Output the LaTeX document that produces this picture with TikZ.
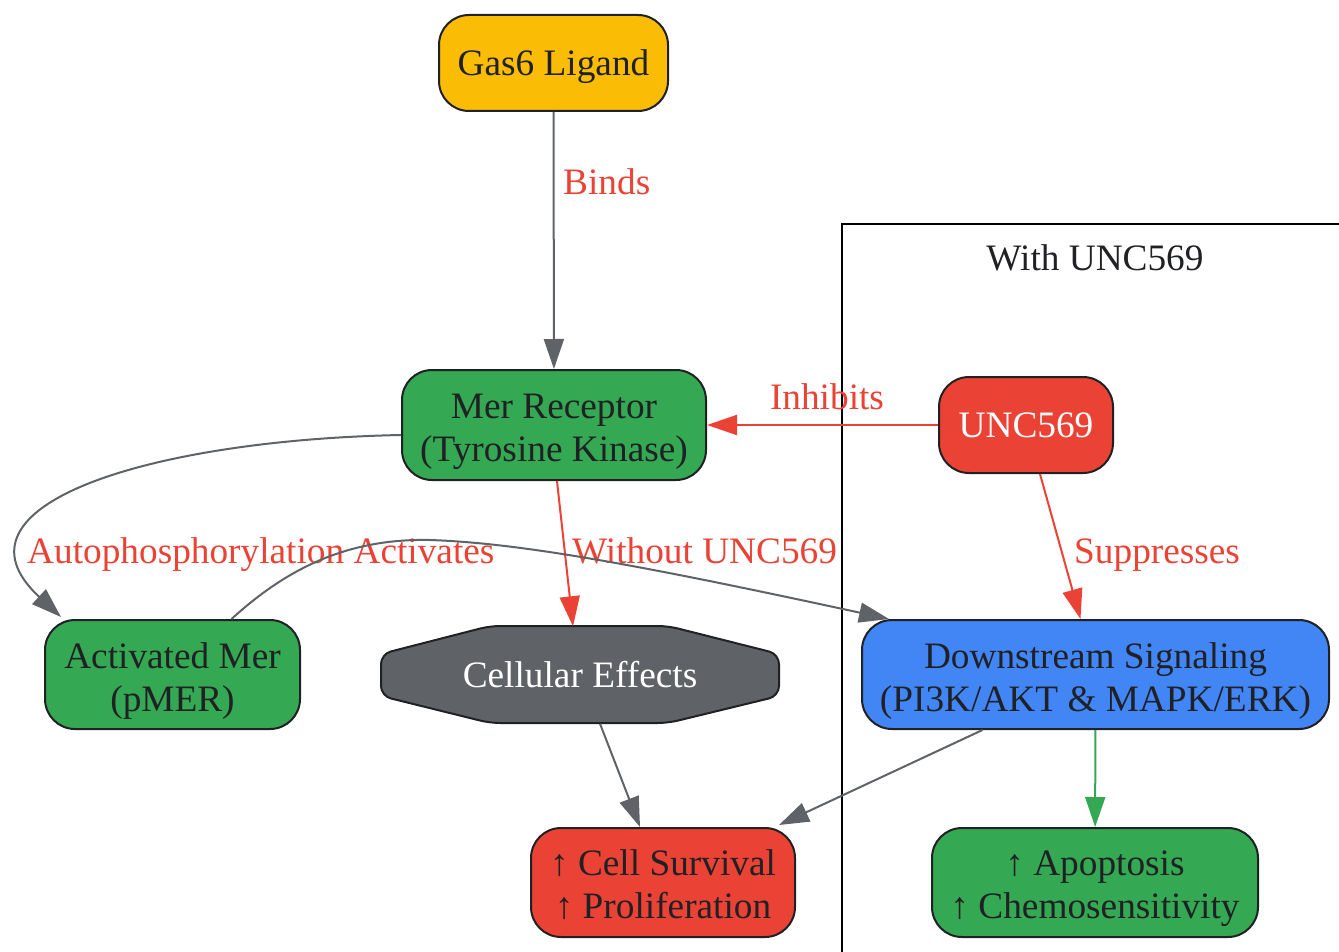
\documentclass[tikz,border=0pt]{standalone}
\usepackage{fontspec}
\setmainfont{Liberation Serif}
\usetikzlibrary{arrows.meta}
\definecolor{cgreen}{HTML}{34A853}
\definecolor{cred}{HTML}{EA4335}
\definecolor{cyellow}{HTML}{FBBC05}
\definecolor{cblue}{HTML}{4285F4}
\definecolor{cgray}{HTML}{5F6368}
\definecolor{cdark}{HTML}{202124}
\newcommand{\topstrut}{\rule{0pt}{38pt}}
\newcommand{\botstrut}{\rule[-9pt]{0pt}{9pt}}
\begin{document}
\begin{tikzpicture}[x=1pt,y=-1pt,
  font=\fontsize{37.3}{43}\selectfont,
  box/.style={draw=cdark, line width=2pt, rounded corners=30pt, inner sep=0pt, align=center, text=cdark},
  edge/.style={line width=2pt, draw=cgray, -{Triangle[length=30pt,width=20pt]}},
  redge/.style={line width=2pt, draw=cred, -{Triangle[length=30pt,width=20pt,fill=cred]}},
  gedge/.style={line width=2pt, draw=cgreen, -{Triangle[length=30pt,width=20pt,fill=cgreen]}},
  lbl/.style={text=cred, inner sep=0pt, text height=24pt, text depth=0pt}
]
\useasboundingbox (0,0) rectangle (1339,952);
% cluster
\draw[line width=2pt, black] (842,1000) -- (842,224) -- (1400,224);
\node[text=cdark, inner sep=0pt, text height=24pt, text depth=0pt] (cl) at (1095,259) {With UNC569};

% nodes
\node[box, fill=cyellow, minimum width=229pt, minimum height=96pt, text height=26pt, text depth=0pt] (gas) at (553.5,63) {Gas6 Ligand};
\node[box, fill=cgreen, minimum width=304pt, minimum height=110pt] (mer) at (554,425) {\topstrut Mer Receptor\\(Tyrosine Kinase)};
\node[box, fill=cred, text=white, minimum width=174pt, minimum height=96pt, text height=24pt, text depth=0pt] (unc) at (1026,425) {UNC569};
\node[box, fill=cgreen, minimum width=255pt, minimum height=109pt] (act) at (172.5,674.5) {\topstrut Activated Mer\\(pMER)};
\draw[fill=cgray, draw=cdark, line width=2pt, rounded corners=10pt]
  (490,626) -- (668,626) -- (779,654) -- (779,696) -- (668,723) -- (490,723) -- (381,696) -- (381,654) -- cycle;
\node[inner sep=0pt, text=white, minimum width=398pt, minimum height=97pt, text height=24pt, text depth=0pt] (cell) at (580,675) {Cellular Effects};
\node[box, fill=cblue, minimum width=467pt, minimum height=109pt] (down) at (1095.5,674.5) {\topstrut Downstream Signaling\\(PI3K/AKT \& MAPK/ERK)};
\node[box, fill=cred, minimum width=264pt, minimum height=109pt] (surv) at (663,882.5) {\topstrut ↑ Cell Survival\\↑ Proliferation\botstrut};
\node[box, fill=cgreen, minimum width=326pt, minimum height=109pt] (apop) at (1095,882.5) {\topstrut ↑ Apoptosis\\↑ Chemosensitivity};

% edges
\draw[edge] (gas) -- (mer);
\node[lbl, anchor=west] (lbinds) at (563,183) {Binds};

\draw[redge] (unc) -- (mer);
\node[lbl] (linh) at (827,397) {Inhibits};

\draw[redge] ([xshift=3pt]mer.south) -- ([xshift=-7pt]cell.north);
\node[lbl, anchor=west] (lwo) at (572,551) {Without UNC569};

\draw[edge] ([yshift=-10pt]mer.west) .. controls (150,440) and (-60,505) .. ([xshift=17pt,yshift=2pt]act.north west);
\node[lbl, anchor=west] (lauto) at (27,551) {Autophosphorylation Activates};

\draw[edge] ([xshift=59pt]act.north) .. controls (280,575) and (340,538) .. (430,540) .. controls (520,543) and (640,565) .. ([xshift=28pt]down.north west);

\draw[redge] ([xshift=14pt]unc.south) -- ([xshift=-15pt]down.north);
\node[lbl, anchor=west] (lsup) at (1074,551) {Suppresses};

\draw[edge] ([xshift=20pt]cell.south) -- ([xshift=-23pt]surv.north);
\draw[edge] ([xshift=-113pt]down.south) -- ([xshift=-17pt,yshift=2pt]surv.north east);
\draw[gedge] (down) -- (apop);
\end{tikzpicture}
\end{document}
